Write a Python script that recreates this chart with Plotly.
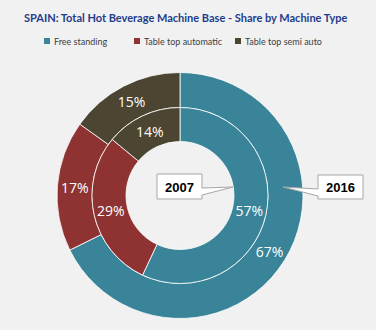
import plotly.graph_objects as go

W, H = 376, 330

categories = ["Free standing", "Table top automatic", "Table top semi auto"]
share_2007 = [57, 29, 14]
share_2016 = [67, 17, 15]
years = ["2007", "2016"]
colors = ["#3a8499", "#8f3232", "#4b4531"]

title = "SPAIN: Total Hot Beverage Machine Base - Share by Machine Type"


def px(x):
    return x / W


def py(y):
    return 1 - y / H


cx, cy = 180, 195.5
r_out, r_mid, r_hole = 123, 88, 54

fig = go.Figure()

fig.add_trace(go.Pie(
    labels=categories, values=share_2016, sort=False, direction="clockwise", rotation=0,
    hole=r_mid / r_out, marker=dict(colors=colors, line=dict(color="rgba(255,255,255,0.8)", width=1)),
    text=[f"{v}%" for v in share_2016], textinfo="text", textposition="inside",
    insidetextorientation="horizontal",
    textfont=dict(color="white", size=14, family="Open Sans"),
    domain=dict(x=[px(cx - r_out), px(cx + r_out)], y=[py(cy + r_out), py(cy - r_out)]),
    showlegend=False, hoverinfo="label+text", name=years[1],
))
fig.add_trace(go.Pie(
    labels=categories, values=share_2007, sort=False, direction="clockwise", rotation=0,
    hole=r_hole / r_mid, marker=dict(colors=colors, line=dict(color="rgba(255,255,255,0.8)", width=1)),
    text=[f"{v}%" for v in share_2007], textinfo="text", textposition="inside",
    insidetextorientation="horizontal",
    textfont=dict(color="white", size=14, family="Open Sans"),
    domain=dict(x=[px(cx - r_mid), px(cx + r_mid)], y=[py(cy + r_mid), py(cy - r_mid)]),
    showlegend=False, hoverinfo="label+text", name=years[0],
))

shapes = []
annotations = []

# title
annotations.append(dict(
    text=title, x=px(186), y=py(17), xref="paper", yref="paper", showarrow=False,
    font=dict(family="Lato", size=11, color="#1f3c8c", weight=700),
    xanchor="center", yanchor="middle",
))

# manual legend
legend_x = [47, 137, 238]
for name, col, lx in zip(categories, colors, legend_x):
    shapes.append(dict(type="rect", xref="paper", yref="paper",
                       x0=px(lx - 3), x1=px(lx + 3), y0=py(44), y1=py(38),
                       fillcolor=col, line=dict(width=0)))
    annotations.append(dict(text=name, x=px(lx + 5), y=py(41), xref="paper", yref="paper",
                            showarrow=False, xanchor="left", yanchor="middle",
                            font=dict(family="Lato", size=9, color="#404040")))


def path(points):
    s = "M" + " L".join(f"{px(x):.5f},{py(y):.5f}" for x, y in points) + " Z"
    return s


# 2007 callout
shapes.append(dict(type="path", xref="paper", yref="paper",
                   path=path([(157, 174), (202, 174), (202, 188), (233, 187), (202, 195), (202, 199), (157, 199)]),
                   fillcolor="white", line=dict(color="#a6a6a6", width=1)))
annotations.append(dict(text="<b>" + years[0] + "</b>", x=px(179.5), y=py(187), xref="paper", yref="paper",
                        xanchor="center", yanchor="middle",
                        showarrow=False, font=dict(family="Liberation Sans", size=13, color="black")))
# 2016 callout
shapes.append(dict(type="path", xref="paper", yref="paper",
                   path=path([(318, 175), (363, 175), (363, 199), (318, 199), (318, 196), (283, 187), (318, 189)]),
                   fillcolor="white", line=dict(color="#a6a6a6", width=1)))
annotations.append(dict(text="<b>" + years[1] + "</b>", x=px(340.5), y=py(187), xref="paper", yref="paper",
                        xanchor="center", yanchor="middle",
                        showarrow=False, font=dict(family="Liberation Sans", size=13, color="black")))

fig.update_layout(
    width=W, height=H, margin=dict(l=0, r=0, t=0, b=0),
    paper_bgcolor="#f1f1f1", plot_bgcolor="#f1f1f1",
    uniformtext=dict(minsize=13, mode="show"),
    shapes=shapes, annotations=annotations, showlegend=False,
)

fig.write_html("out.html")
